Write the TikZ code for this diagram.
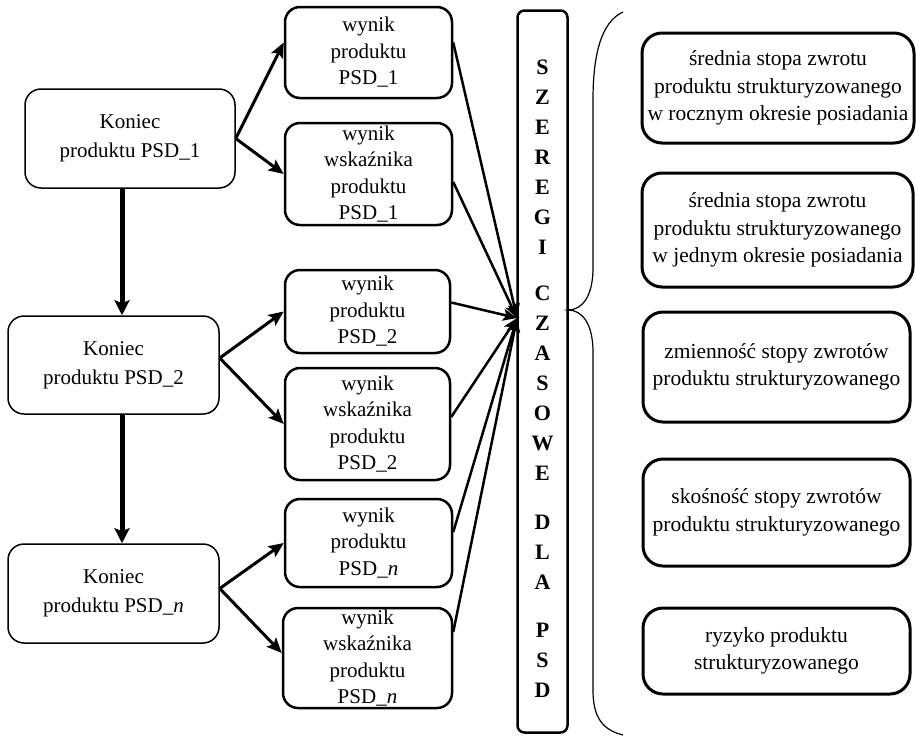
\documentclass[tikz,border=0pt]{standalone}
\usepackage{fontspec}
\setmainfont{Liberation Serif}
\usetikzlibrary{arrows.meta,calc}
\begin{document}
\begin{tikzpicture}[x=1pt,y=-1pt,
  txt/.style={font=\fontsize{21.5}{27.5}\selectfont, align=center, inner sep=0pt},
  kbox/.style={txt, draw, line width=1.5pt, rounded corners=16pt, font=\fontsize{21}{29}\selectfont},
  wbox/.style={txt, draw, line width=2.5pt, rounded corners=15pt, font=\fontsize{21}{26.5}\selectfont},
  rbox/.style={txt, draw, line width=3pt, rounded corners=20pt},
  downarrow/.style={line width=5pt, -{Stealth[length=15pt,width=15pt,inset=3pt]}},
  outarrow/.style={line width=3pt, -{Stealth[length=15pt,width=13pt,inset=3pt]}},
  inarrow/.style={line width=2.5pt, -{Stealth[length=14pt,width=12pt,inset=3pt]}}]
\useasboundingbox (0,0) rectangle (916,737);

% left boxes
\node[kbox, minimum width=210pt, minimum height=99pt] (K1) at (130,138.5) {Koniec\\produktu PSD\_1};
\node[kbox, minimum width=211pt, minimum height=98pt] (K2) at (113.5,365) {Koniec\\produktu PSD\_2};
\node[kbox, minimum width=211pt, minimum height=99pt] (Kn) at (113.5,593.5) {Koniec\\produktu PSD\_\textit{n}};

% middle boxes
\node[wbox, minimum width=167pt, minimum height=91pt] (W1a) at (368.5,52.5) {wynik\\produktu\\PSD\_1};
\node[wbox, minimum width=167pt, minimum height=102pt] (W1b) at (368.5,174) {wynik\\wskaźnika\\produktu\\PSD\_1};
\node[wbox, minimum width=165pt, minimum height=83pt] (W2a) at (367.5,311.5) {wynik\\produktu\\PSD\_2};
\node[wbox, minimum width=165pt, minimum height=112pt] (W2b) at (367.5,424) {wynik\\wskaźnika\\produktu\\PSD\_2};
\node[wbox, minimum width=167pt, minimum height=88pt] (Wna) at (368.5,543) {wynik\\produktu\\PSD\_\textit{n}};
\node[wbox, minimum width=169pt, minimum height=100pt] (Wnb) at (367.5,658) {wynik\\wskaźnika\\produktu\\PSD\_\textit{n}};

% vertical bar
\node[draw, line width=2.5pt, rounded corners=7pt, minimum width=50pt, minimum height=722pt, inner sep=0pt] (bar) at (542.5,371.5) {};
\node[font=\fontsize{22}{30}\selectfont\bfseries, align=center, inner sep=0pt] (bartext) at (542.5,378.5)
  {S\\Z\\E\\R\\E\\G\\I\\[16pt]C\\Z\\A\\S\\O\\W\\E\\[19pt]D\\L\\A\\[18pt]P\\S\\D};
\coordinate (conv) at (517,318);

% right boxes
\node[rbox, minimum width=272pt, minimum height=110pt] (R1) at (778,88) {średnia stopa zwrotu\\produktu strukturyzowanego\\w rocznym okresie posiadania};
\node[rbox, minimum width=271pt, minimum height=114pt] (R2) at (777.5,230) {średnia stopa zwrotu\\produktu strukturyzowanego\\w jednym okresie posiadania};
\node[rbox, minimum width=267pt, minimum height=110pt] (R3) at (776.5,367) {zmienność stopy zwrotów\\produktu strukturyzowanego};
\node[rbox, minimum width=267pt, minimum height=107pt] (R4) at (776.5,512.5) {skośność stopy zwrotów\\produktu strukturyzowanego};
\node[rbox, minimum width=267pt, minimum height=86pt] (R5) at (776.5,651) {ryzyko produktu\\strukturyzowanego};

% vertical arrows
\draw[downarrow] ([xshift=-8pt]K1.south) -- ([xshift=-8pt]K1.south |- K2.north);
\draw[downarrow] ([xshift=8.5pt]K2.south) -- ([xshift=8.5pt]K2.south |- Kn.north);

% arrows to middle boxes
\draw[outarrow] (K1.east) -- ([yshift=10pt]W1a.west);
\draw[outarrow] (K1.east) -- (W1b.west);
\draw[outarrow] ([yshift=7pt]K2.east) -- (W2a.west);
\draw[outarrow] ([yshift=7pt]K2.east) -- (W2b.west);
\draw[outarrow] ([yshift=5pt]Kn.east) -- (Wna.west);
\draw[outarrow] ([yshift=5pt]Kn.east) -- ([yshift=5pt]Wnb.west);

% arrows to bar
\draw[inarrow] ([yshift=10pt]W1a.east) -- (conv);
\draw[inarrow] ([yshift=-8pt]W1b.east) -- (conv);
\draw[inarrow] ([yshift=9pt]W2a.east) -- (conv);
\draw[inarrow] ([yshift=7pt]W2b.east) -- (conv);
\draw[inarrow] ([yshift=11pt]Wna.east) -- (conv);
\draw[inarrow] ([yshift=26pt]Wnb.east) -- (conv);

% brace
\draw[line width=1.2pt] (623,12) .. controls (601,22) and (593,55) .. (593,100) -- (593,268)
  .. controls (593,295) and (583,310) .. (568,310)
  .. controls (583,310) and (593,325) .. (593,352) -- (593,690)
  .. controls (593,718) and (603,730) .. (623,735);
\end{tikzpicture}
\end{document}
